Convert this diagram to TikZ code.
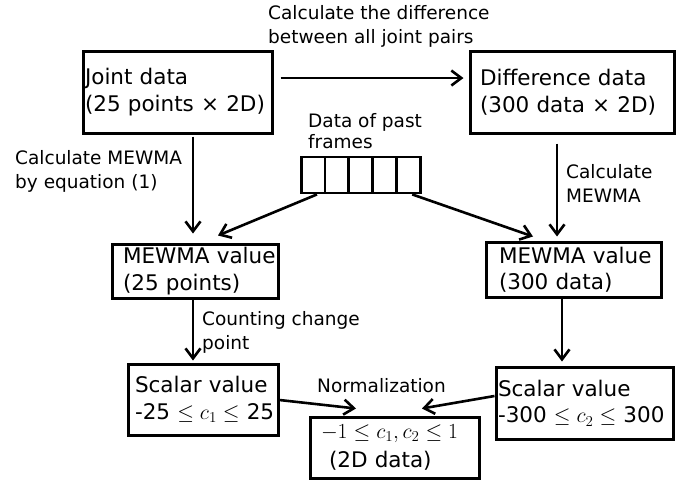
\RequirePackage{fix-cm}
\documentclass[tikz,border=0pt]{standalone}
\usepackage[no-math]{fontspec}
\setmainfont{DejaVu Sans}
\usetikzlibrary{arrows.meta}
\begin{document}
\begin{tikzpicture}[x=1pt,y=-1pt,
  box/.style={draw, line width=3pt, align=left, inner sep=0pt, font=\fontsize{21.5}{26.5}\selectfont},
  lab/.style={inner sep=0pt, align=left, anchor=base west, font=\fontsize{18.5}{23.5}\selectfont},
  cell/.style={draw, line width=2.8pt, minimum width=23.8pt, minimum height=36pt, inner sep=0pt},
  arr/.style={line width=2.6pt, -{Straight Barb[length=10pt,width=15pt]}}]
\useasboundingbox (0,0) rectangle (681,480);

% boxes
\node[box, minimum width=189pt, minimum height=82pt, text width=185pt] (joint) at (177.5,92)
  {\mbox{Joint data}\\\mbox{(25 points × 2D)}};
\node[box, minimum width=204pt, minimum height=82pt, text width=184pt] (diff) at (572,92)
  {\mbox{Difference data}\\\mbox{(300 data × 2D)}};
\node[box, minimum width=166pt, minimum height=54pt, text width=144pt] (mew1) at (195,271)
  {\mbox{MEWMA value}\\\mbox{(25 points)}};
\node[box, minimum width=175pt, minimum height=55pt, text width=149pt] (mew2) at (573.5,269.5)
  {\mbox{MEWMA value}\\\mbox{(300 data)}};
\node[box, minimum width=150pt, minimum height=71pt, text width=136pt] (sc1) at (203,399.5)
  {\mbox{Scalar value}\\\mbox{-25 $\leq c_1 \leq$ 25}};
\node[box, minimum width=177pt, minimum height=72pt, text width=173pt] (sc2) at (584.5,403)
  {\mbox{Scalar value}\\\mbox{-300 $\leq c_2 \leq$ 300}};
\node[box, minimum width=169pt, minimum height=61pt, text width=147pt] (res) at (394.5,447.5)
  {\mbox{$-1 \leq c_1, c_2 \leq 1$}\\[2.5pt]\mbox{\hspace*{8pt}(2D data)}};

% past-frame buffer
\node[cell] (c1) at (313,175) {};
\node[cell] (c2) at (336.8,175) {};
\node[cell] (c3) at (360.6,175) {};
\node[cell] (c4) at (384.4,175) {};
\node[cell] (c5) at (408.2,175) {};

% labels (anchor = baseline of the last line)
\node[lab] (ltop) at (268,43) {Calculate the difference\\between all joint pairs};
\node[lab] (lleft) at (15,188) {Calculate MEWMA\\by equation (1)};
\node[lab, font=\fontsize{18.5}{21}\selectfont] (lpast) at (308,148) {Data of past\\frames};
\node[lab] (lright) at (566,202) {Calculate\\MEWMA};
\node[lab] (lcount) at (202,349) {Counting change\\point};
\node[lab] (lnorm) at (317,392) {Normalization};

% connectors
\draw[arr, shorten <=7pt, shorten >=5pt] ([yshift=14pt]joint.east) -- ([yshift=14pt]diff.west);
\draw[arr, shorten <=2pt, shorten >=9pt] ([xshift=15.5pt]joint.south) -- ([xshift=15.5pt]joint.south |- mew1.north);
\draw[arr, shorten <=9pt, shorten >=4pt] ([xshift=-15pt]diff.south) -- ([xshift=-15pt]diff.south |- mew2.north);
\draw[arr] ([xshift=4pt]c1.south) -- ([shift={(23pt,7pt)}]mew1.north);
\draw[arr] ([xshift=4pt]c5.south) -- ([shift={(-40.5pt,4pt)}]mew2.north);
\draw[arr, shorten >=2pt] ([xshift=-2pt]mew1.south) -- ([xshift=-2pt]mew1.south |- sc1.north);
\draw[arr, shorten >=4pt] ([xshift=-11.5pt]mew2.south) -- ([xshift=-11.5pt]mew2.south |- sc2.north);
\draw[arr] ([yshift=-0.5pt]sc1.east) -- ([shift={(-38.5pt,7pt)}]res.north);
\draw[arr] ([yshift=7pt]sc2.west) -- ([shift={(27.5pt,7pt)}]res.north);
\end{tikzpicture}
\end{document}
